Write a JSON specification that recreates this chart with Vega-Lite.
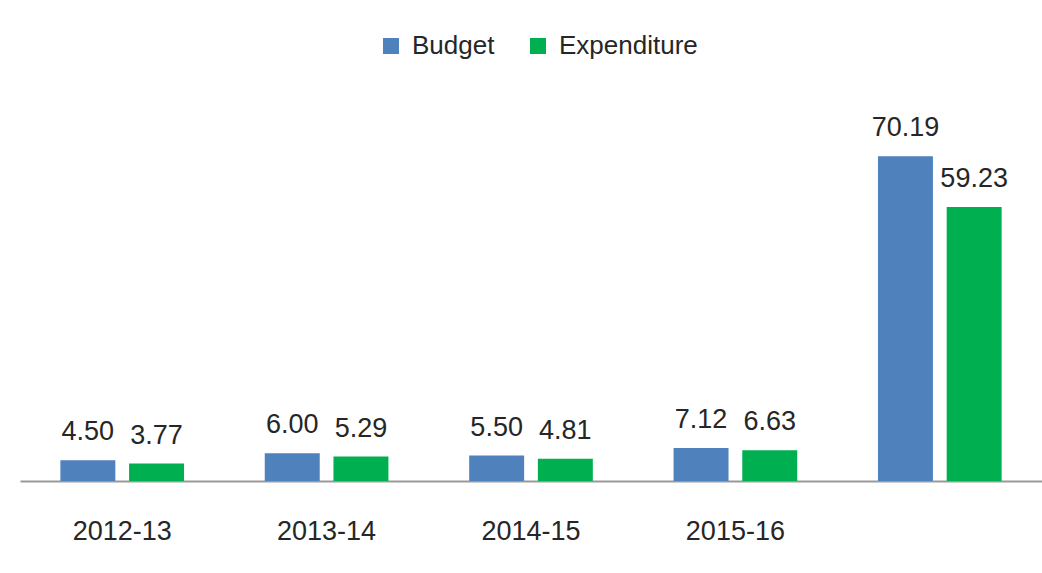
{
  "$schema": "https://vega.github.io/schema/vega-lite/v6.json",
  "width": 1022,
  "height": 370,
  "autosize": {"type": "none"},
  "padding": {"left": 20, "top": 111, "right": 0, "bottom": 92},
  "background": "#ffffff",
  "config": {
    "view": {"stroke": null},
    "font": "Liberation Sans"
  },
  "data": {
    "values": [
      {"year": "2012-13", "series": "Budget", "value": 4.50},
      {"year": "2012-13", "series": "Expenditure", "value": 3.77},
      {"year": "2013-14", "series": "Budget", "value": 6.00},
      {"year": "2013-14", "series": "Expenditure", "value": 5.29},
      {"year": "2014-15", "series": "Budget", "value": 5.50},
      {"year": "2014-15", "series": "Expenditure", "value": 4.81},
      {"year": "2015-16", "series": "Budget", "value": 7.12},
      {"year": "2015-16", "series": "Expenditure", "value": 6.63},
      {"year": "", "series": "Budget", "value": 70.19},
      {"year": "", "series": "Expenditure", "value": 59.23}
    ]
  },
  "encoding": {
    "x": {
      "field": "year",
      "type": "nominal",
      "sort": null,
      "scale": {"paddingInner": 0.395, "paddingOuter": 0.1975},
      "axis": {
        "title": null,
        "labelAngle": 0,
        "labelFontSize": 27,
        "labelColor": "#262626",
        "labelPadding": 37,
        "ticks": false,
        "domainColor": "#999999",
        "domainWidth": 2,
        "grid": false
      }
    },
    "xOffset": {
      "field": "series",
      "type": "nominal",
      "scale": {"domain": ["Budget", "Expenditure"], "paddingInner": 0.2, "paddingOuter": 0}
    },
    "y": {
      "field": "value",
      "type": "quantitative",
      "scale": {"domain": [0, 80], "nice": false},
      "axis": null
    }
  },
  "layer": [
    {
      "mark": {"type": "bar"},
      "encoding": {
        "color": {
          "field": "series",
          "type": "nominal",
          "scale": {"domain": ["Budget", "Expenditure"], "range": ["#4F81BD", "#00B050"]},
          "legend": {
            "title": null,
            "orient": "none",
            "legendX": 358,
            "legendY": -78,
            "direction": "horizontal",
            "symbolType": "square",
            "symbolSize": 256,
            "symbolStrokeWidth": 0,
            "labelFontSize": 26,
            "labelColor": "#262626",
            "labelOffset": 8,
            "columnPadding": 30
          }
        }
      }
    },
    {
      "mark": {"type": "text", "baseline": "alphabetic", "dy": -20, "fontSize": 27, "color": "#262626"},
      "encoding": {
        "text": {"field": "value", "type": "quantitative", "format": ".2f"}
      }
    }
  ]
}
